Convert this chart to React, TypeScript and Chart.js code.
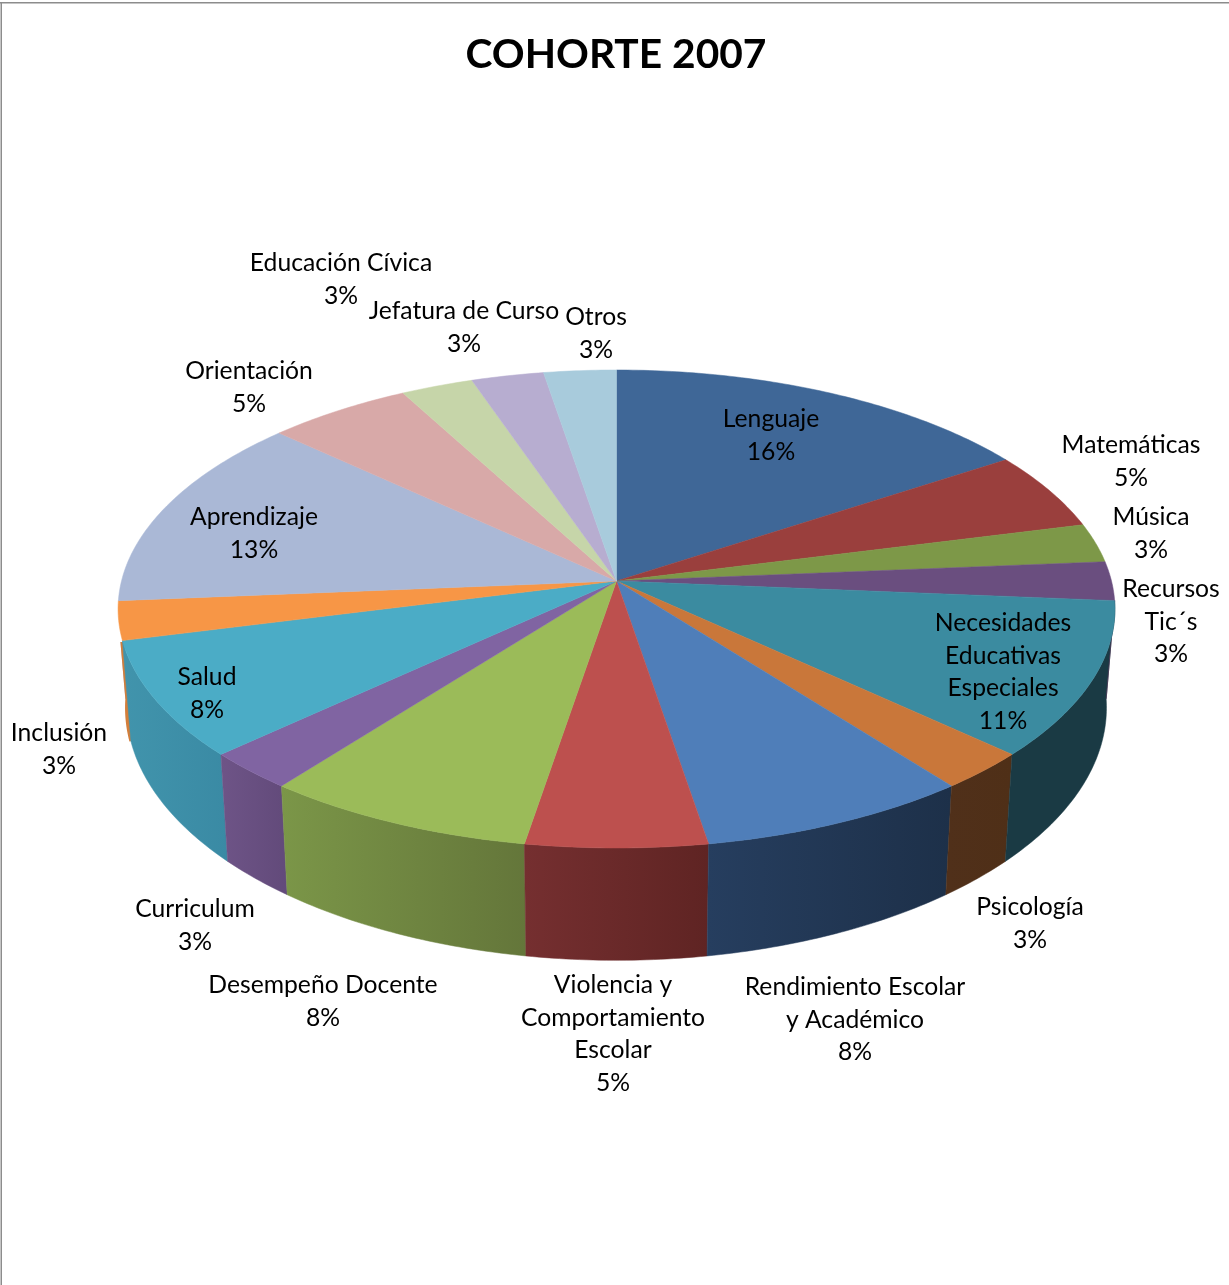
import React, { useEffect, useRef } from "react";
import { Chart, registerables } from "chart.js";

Chart.register(...registerables);

// Responses per topic (shown as rounded percentages of the total)
const categories = [
  "Lenguaje", "Matemáticas", "Música", "Recursos\nTic´s", "Necesidades\nEducativas\nEspeciales",
  "Psicología", "Rendimiento Escolar\ny Académico", "Violencia y\nComportamiento\nEscolar",
  "Desempeño Docente", "Curriculum", "Salud", "Inclusión", "Aprendizaje", "Orientación",
  "Educación Cívica", "Jefatura de Curso", "Otros",
];
const counts = [6, 2, 1, 1, 4, 1, 3, 2, 3, 1, 3, 1, 5, 2, 1, 1, 1];

const topColors = [
  "#3f6797", "#9a3f3d", "#7d9848", "#6a4e7f", "#3b8ba0", "#c9773a", "#4f7eb9", "#bd504e", "#9bbb59",
  "#8064a2", "#4bacc6", "#f79646", "#aab8d6", "#d8a9a8", "#c6d5a9", "#b7add0", "#a8cbdc",
];
const wallLeftColors = [
  "#25405f", "#5f2726", "#4d5e2c", "#42304f", "#1a3a44", "#50301a", "#263e5f", "#752f30", "#7b9648",
  "#6e5487", "#4194ac", "#d47e3a", "#aab8d6", "#d8a9a8", "#c6d5a9", "#b7add0", "#a8cbdc",
];
const wallRightColors = [
  "#25405f", "#5f2726", "#4d5e2c", "#42304f", "#1a3a44", "#4f2f17", "#1d3049", "#5f2423", "#64763a",
  "#624a7a", "#3a8aa4", "#d47e3a", "#aab8d6", "#d8a9a8", "#c6d5a9", "#b7add0", "#a8cbdc",
];

// Label anchor: horizontal centre and first-line middle, per category
const labelAnchorX = [771, 1131, 1151, 1171, 1003, 1030, 855, 613, 323, 195, 207, 59, 254, 249, 341, 464, 596];
const labelAnchorY = [418, 444, 516, 588, 622, 906, 986, 984, 984, 908, 676, 732, 516, 370, 262, 310, 316];

const CX = 616.5;
const APEX_Y = 581;
const C = -0.11715;
const A_Y = 167.66;
const A_X = 495;
const FONT = "Lato, Carlito, sans-serif";
const LABEL_SIZE = 24.7;
const LINE_H = 32.7;

// Perspective projection of a point of the pie's plane
function rim(theta: number) {
  const u = Math.cos(theta);
  const v = Math.sin(theta);
  const d = 1 + C * v;
  return { x: CX + (A_X * u) / d, y: (A_Y * v + APEX_Y) / d };
}
function lower(p: { x: number; y: number }) {
  return { x: CX + (p.x - CX) * 0.983, y: p.y + 107 + (p.y - 755) * 0.057 };
}

const pie3d = {
  id: "pie3d",
  beforeDatasetsDraw(chart: any) {
    const ctx: CanvasRenderingContext2D = chart.ctx;
    const arcs = chart.getDatasetMeta(0).data;

    // side walls: only the part of the rim that faces the viewer
    for (let i = arcs.length - 1; i >= 0; i--) {
      const arc = arcs[i];
      const a0 = Math.max(arc.startAngle, 0.082);
      const a1 = Math.min(arc.endAngle, Math.PI - 0.05);
      if (a1 <= a0) continue;
      const n = Math.max(2, Math.ceil((a1 - a0) * 80));
      const up = [];
      for (let k = 0; k <= n; k++) up.push(rim(a0 + ((a1 - a0) * k) / n));
      const dn = up.map(lower).reverse();
      const pts = up.concat(dn);
      const xs = pts.map((p) => p.x);
      const g = ctx.createLinearGradient(Math.min(...xs), 0, Math.max(...xs), 0);
      g.addColorStop(0, wallLeftColors[i]);
      g.addColorStop(1, wallRightColors[i]);
      const thick = a1 > 3;
      ctx.save();
      if (thick) {
        ctx.beginPath();
        ctx.rect(0, 642, chart.width, chart.height);
        ctx.clip();
      }
      ctx.beginPath();
      pts.forEach((p, k) => (k ? ctx.lineTo(p.x, p.y) : ctx.moveTo(p.x, p.y)));
      ctx.closePath();
      ctx.fillStyle = g;
      ctx.strokeStyle = g;
      ctx.lineWidth = thick ? 3 : 0.5;
      ctx.fill();
      ctx.stroke();
      ctx.restore();
    }

    // top face
    arcs.forEach((arc: any, i: number) => {
      const n = Math.max(2, Math.ceil((arc.endAngle - arc.startAngle) * 80));
      ctx.beginPath();
      ctx.moveTo(CX, APEX_Y);
      for (let k = 0; k <= n; k++) {
        const p = rim(arc.startAngle + ((arc.endAngle - arc.startAngle) * k) / n);
        ctx.lineTo(p.x, p.y);
      }
      ctx.closePath();
      ctx.fillStyle = topColors[i];
      ctx.strokeStyle = topColors[i];
      ctx.lineWidth = 0.5;
      ctx.fill();
      ctx.stroke();
    });

    // labels
    const total = counts.reduce((s, v) => s + v, 0);
    ctx.fillStyle = "#000";
    ctx.font = `${LABEL_SIZE}px ${FONT}`;
    ctx.textAlign = "center";
    ctx.textBaseline = "middle";
    categories.forEach((name, i) => {
      const lines = name.split("\n").concat(`${Math.round((counts[i] / total) * 100)}%`);
      lines.forEach((t, k) => ctx.fillText(t, labelAnchorX[i], labelAnchorY[i] + 1 + k * LINE_H));
    });

    // frame
    ctx.fillStyle = "#8c8c8c";
    ctx.fillRect(0, 2, 1229, 1.5);
    ctx.fillRect(0.5, 2, 1.5, 1283);
    return false;
  },
};

export default function App() {
  const ref = useRef<HTMLCanvasElement>(null);
  useEffect(() => {
    document.body.style.margin = "0";
    const chart = new Chart(ref.current!, {
      type: "pie",
      data: {
        labels: categories,
        datasets: [{ data: counts, backgroundColor: topColors, borderWidth: 0 }],
      },
      plugins: [pie3d],
      options: {
        responsive: false,
        animation: false,
        layout: { padding: { left: 3 } },
        plugins: {
          legend: { display: false },
          tooltip: { enabled: false },
          title: {
            display: true,
            text: "COHORTE 2007",
            color: "#000",
            font: { family: FONT, size: 40.7, weight: "bold" },
            padding: { top: 30, bottom: 10 },
          },
        },
      },
    } as any);
    return () => chart.destroy();
  }, []);
  return <canvas ref={ref} width={1229} height={1285} style={{ display: "block", background: "#fff" }} />;
}
